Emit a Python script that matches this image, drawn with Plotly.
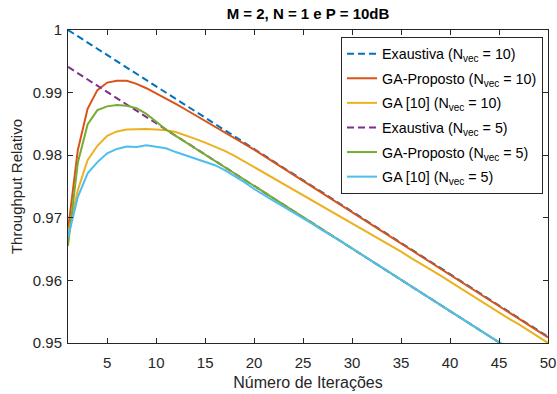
import plotly.graph_objects as go

iteracoes = list(range(1, 51))

exaustiva_10 = [1.000, 0.999, 0.998, 0.997, 0.996, 0.995, 0.994, 0.993, 0.992, 0.991,
                0.990, 0.989, 0.988, 0.987, 0.986, 0.985, 0.984, 0.983, 0.982, 0.981,
                0.980, 0.979, 0.978, 0.977, 0.976, 0.975, 0.974, 0.973, 0.972, 0.971,
                0.970, 0.969, 0.968, 0.967, 0.966, 0.965, 0.964, 0.963, 0.962, 0.961,
                0.960, 0.959, 0.958, 0.957, 0.956, 0.955, 0.954, 0.953, 0.952, 0.951]

ga_proposto_10 = [0.9680, 0.9808, 0.9874, 0.9904, 0.9916, 0.9919, 0.9919, 0.9914, 0.9907, 0.9899,
                  0.9891, 0.9882, 0.9873, 0.9864, 0.9855, 0.9846, 0.9836, 0.9827, 0.9818, 0.9809,
                  0.9799, 0.9789, 0.9779, 0.9769, 0.9759, 0.9749, 0.9739, 0.9729, 0.9719, 0.9709,
                  0.9699, 0.9689, 0.9679, 0.9669, 0.9659, 0.9649, 0.9639, 0.9629, 0.9619, 0.9609,
                  0.9599, 0.9589, 0.9579, 0.9569, 0.9559, 0.9549, 0.9539, 0.9529, 0.9519, 0.9509]

ga_ref_10 = [0.9675, 0.9744, 0.9792, 0.9815, 0.9831, 0.9838, 0.9841, 0.9842, 0.9842, 0.9841,
             0.9840, 0.9837, 0.9832, 0.9826, 0.9820, 0.9814, 0.9807, 0.9799, 0.9790, 0.9781,
             0.9772, 0.9763, 0.9754, 0.9745, 0.9736, 0.9727, 0.9718, 0.9710, 0.9701, 0.9692,
             0.9683, 0.9674, 0.9665, 0.9655, 0.9646, 0.9636, 0.9627, 0.9617, 0.9608, 0.9598,
             0.9588, 0.9578, 0.9569, 0.9559, 0.9549, 0.9539, 0.9530, 0.9520, 0.9510, 0.9500]

exaustiva_5 = [0.9941, 0.9931, 0.9921, 0.9911, 0.9901, 0.9891, 0.9881, 0.9871, 0.9861, 0.9851,
               0.9841, 0.9831, 0.9821, 0.9811, 0.9801, 0.9791, 0.9781, 0.9771, 0.9761, 0.9751,
               0.9741, 0.9731, 0.9721, 0.9711, 0.9701, 0.9691, 0.9681, 0.9671, 0.9661, 0.9651,
               0.9641, 0.9631, 0.9621, 0.9611, 0.9601, 0.9591, 0.9581, 0.9571, 0.9561, 0.9551,
               0.9541, 0.9531, 0.9521, 0.9511, 0.9501, 0.9491, 0.9481, 0.9471, 0.9461, 0.9451]

ga_proposto_5 = [0.9655, 0.9788, 0.9849, 0.9872, 0.9878, 0.9880, 0.9879, 0.9875, 0.9866, 0.9853,
                 0.9841, 0.9831, 0.9821, 0.9811, 0.9801, 0.9791, 0.9781, 0.9771, 0.9761, 0.9751,
                 0.9741, 0.9731, 0.9721, 0.9711, 0.9701, 0.9691, 0.9681, 0.9671, 0.9661, 0.9651,
                 0.9641, 0.9631, 0.9621, 0.9611, 0.9601, 0.9591, 0.9581, 0.9571, 0.9561, 0.9551,
                 0.9541, 0.9531, 0.9521, 0.9511, 0.9501, 0.9491, 0.9481, 0.9471, 0.9461, 0.9451]

ga_ref_5 = [0.9668, 0.9733, 0.9771, 0.9789, 0.9803, 0.9810, 0.9814, 0.9813, 0.9816, 0.9814,
            0.9811, 0.9805, 0.9800, 0.9794, 0.9789, 0.9784, 0.9776, 0.9767, 0.9757, 0.9746,
            0.9736, 0.9727, 0.9718, 0.9709, 0.9699, 0.9690, 0.9680, 0.9671, 0.9661, 0.9651,
            0.9641, 0.9631, 0.9621, 0.9611, 0.9601, 0.9591, 0.9581, 0.9571, 0.9561, 0.9551,
            0.9541, 0.9531, 0.9521, 0.9511, 0.9501, 0.9491, 0.9481, 0.9471, 0.9461, 0.9451]

series = [
    ("Exaustiva (N<sub>vec</sub> = 10)", exaustiva_10, "#0072BD", "7px,4px"),
    ("GA-Proposto (N<sub>vec</sub> = 10)", ga_proposto_10, "#D95319", "solid"),
    ("GA [10] (N<sub>vec</sub> = 10)", ga_ref_10, "#EDB120", "solid"),
    ("Exaustiva (N<sub>vec</sub> = 5)", exaustiva_5, "#7E2F8E", "7px,4px"),
    ("GA-Proposto (N<sub>vec</sub> = 5)", ga_proposto_5, "#77AC30", "solid"),
    ("GA [10] (N<sub>vec</sub> = 5)", ga_ref_5, "#4DBEEE", "solid"),
]

x_ticks = [5, 10, 15, 20, 25, 30, 35, 40, 45, 50]
y_ticks = [0.95, 0.96, 0.97, 0.98, 0.99, 1.0]
y_tick_labels = ["0.95", "0.96", "0.97", "0.98", "0.99", "1"]

fig = go.Figure()
for i, (name, vals, color, dash) in enumerate(series):
    fig.add_trace(go.Scatter(x=iteracoes, y=vals, mode="lines", name=name,
                             legendgroup=f"g{i}",
                             line=dict(color=color, width=2, dash=dash)))

axis_color = "#262626"
font_family = "Liberation Sans, Arial, sans-serif"

fig.update_layout(
    width=557, height=394,
    margin=dict(l=68, r=9, t=30, b=51),
    paper_bgcolor="white", plot_bgcolor="white",
    font=dict(family=font_family, size=15, color=axis_color),
    title=dict(text="<b>M = 2, N = 1 e P = 10dB</b>", x=0.5, xref="paper", xanchor="center",
               y=1 - 14 / 394, yanchor="middle", yref="container",
               font=dict(size=15, color="black")),
    showlegend=True,
    legend=dict(x=0.9896, xanchor="right", y=0.978, yanchor="top",
                bgcolor="white", bordercolor=axis_color, borderwidth=1,
                font=dict(size=14.3, color="black"), tracegroupgap=3,
                itemwidth=30),
)
fig.update_xaxes(range=[1, 50], tickvals=x_ticks, ticks="inside", ticklen=5,
                 tickcolor=axis_color, showline=True, linecolor=axis_color, linewidth=1,
                 mirror="ticks", showgrid=False, zeroline=False, ticklabelstandoff=6,
                 automargin=False,
                 title=dict(text="Número de Iterações", standoff=6, font=dict(size=16)),
                 tickfont=dict(size=15))
fig.update_yaxes(range=[0.95, 1.0], tickvals=y_ticks, ticktext=y_tick_labels, ticks="inside",
                 ticklen=5, tickcolor=axis_color, showline=True, linecolor=axis_color,
                 linewidth=1, mirror="ticks", showgrid=False, zeroline=False,
                 ticklabelstandoff=2, automargin=False,
                 title=dict(text="Throughput Relativo", standoff=6, font=dict(size=15)),
                 tickfont=dict(size=15))

fig.write_html("out.html")
